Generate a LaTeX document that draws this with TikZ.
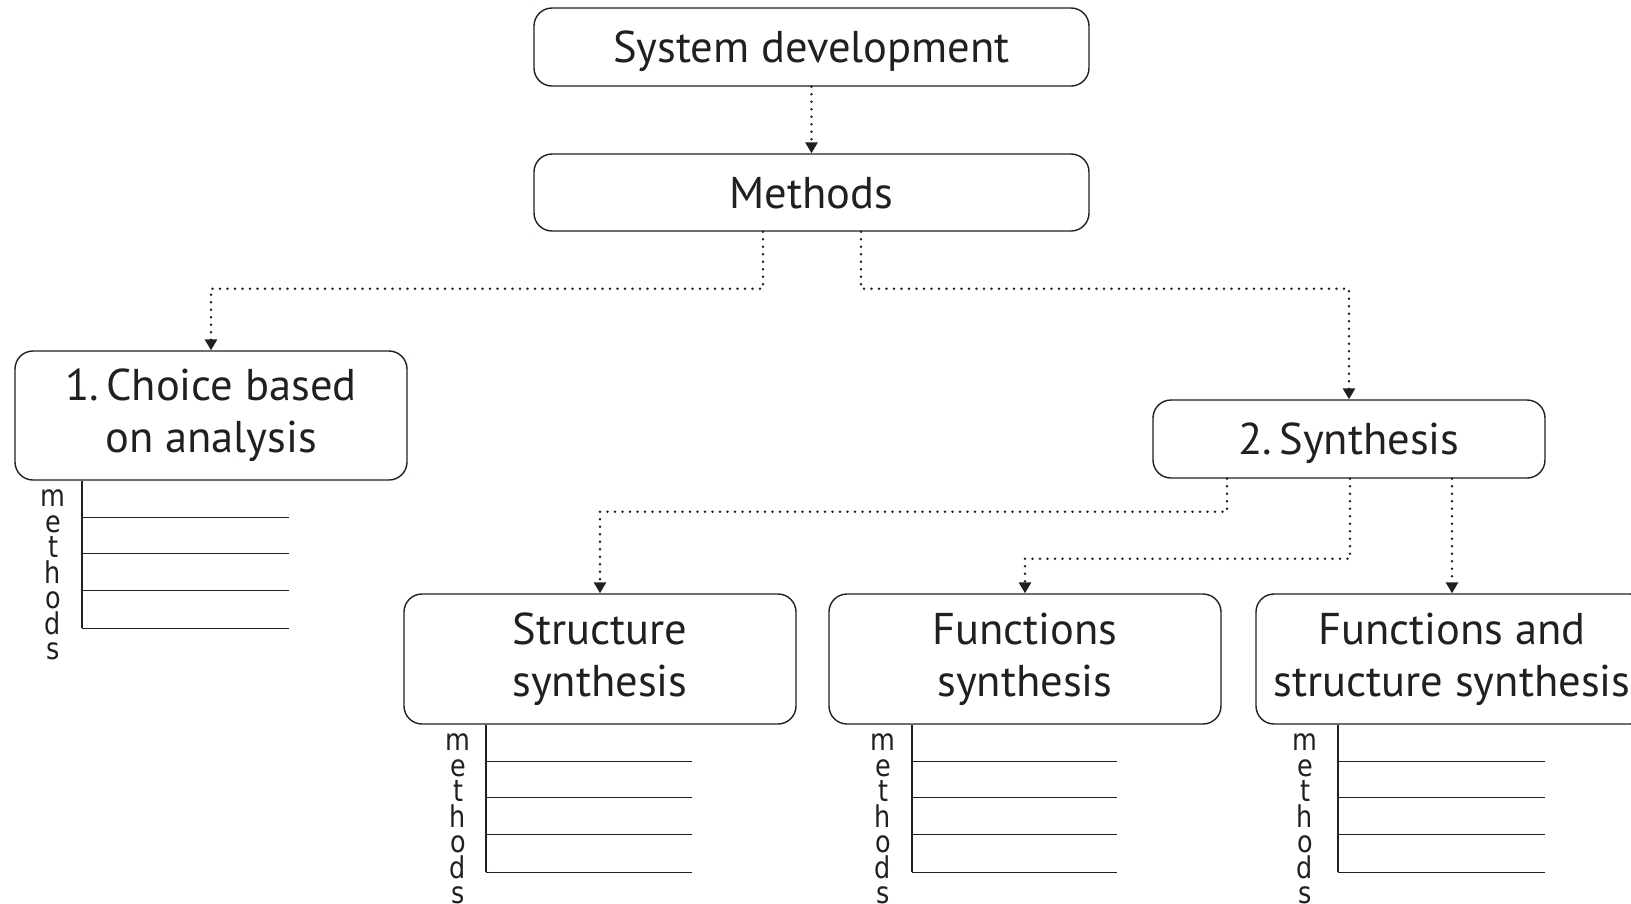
\documentclass[tikz,border=0pt]{standalone}
\usepackage{fontspec}
\setmainfont{PT Sans}
\newfontfamily\letterfont{DejaVu Sans}
\usetikzlibrary{arrows.meta}
\definecolor{ink}{HTML}{231F20}

% vertical "methods" label with an empty list of method slots under a box
% #1 box name, #2 x of the spine, #3 x where the slots end, #4 x of the letters
\newcommand\methlist[4]{%
  \begin{scope}[shift={(#1.south)}]
    \draw[listline] (#2,0) -- (#2,147.5);
    \foreach \yy in {36.5,72.5,109.5,147.5}
      \draw[listline] (#2,\yy) -- (#3,\yy);
    \foreach \ch [count=\i from 0] in {m,e,t,h,o,d,s}
      \node[letter] (#1-l\i) at (#4,26+\i*25.5) {\scalebox{0.85}[1]{\ch}};
  \end{scope}}

\begin{document}
\begin{tikzpicture}[x=1pt,y=-1pt,
  box/.style={draw=ink, line width=1.4pt, rounded corners=18pt,
    minimum width=392pt, inner sep=0pt, align=center, text=ink,
    font=\fontsize{44.5}{52}\selectfont},
  oneline/.style={text depth=0pt, text height=31pt},
  conn/.style={draw=ink, line width=2.8pt, dash pattern=on 0pt off 7.5pt,
    line cap=round, -{Triangle[width=12pt,length=11pt]}},
  listline/.style={draw=ink, line width=1.4pt},
  letter/.style={anchor=base, inner sep=0pt, text=ink,
    font=\letterfont\fontsize{30}{30}\selectfont}]
\clip (0,0) rectangle (1631,903);

\node[box, oneline, minimum width=555pt, minimum height=78pt] (sysdev) at (811.5,47) {System development};
\node[box, oneline, minimum width=555pt, minimum height=77pt] (methods) at (811.5,192.5) {Methods};
\node[box, minimum height=129pt] (choice) at (211,415.5) {1.\,Choice based\\on analysis};
\node[box, oneline, minimum height=78pt] (synth) at (1349,439) {2.\,Synthesis};
\node[box, minimum height=130pt] (ssyn) at (600,659) {Structure\\synthesis};
\node[box, minimum height=130pt] (fsyn) at (1025,659) {Functions\\synthesis};
\node[box, minimum height=130pt] (fss) at (1452,659) {Functions and\\structure synthesis};

\draw[conn] (sysdev.south) -- (methods.north);
\draw[conn] ([xshift=-48.5pt]methods.south) -- ++(0,57) -| (choice.north);
\draw[conn] ([xshift=49.5pt]methods.south) -- ++(0,57) -| (synth.north);
\draw[conn] ([xshift=-122pt]synth.south) -- ++(0,33) -| (ssyn.north);
\draw[conn] ([xshift=1pt]synth.south) -- ++(0,80) -| (fsyn.north);
\draw[conn] ([xshift=103pt]synth.south) -- ([xshift=103pt]synth.south |- fss.north);

\methlist{choice}{-129}{78}{-158}
\methlist{ssyn}{-114}{92}{-142}
\methlist{fsyn}{-113}{92}{-142}
\methlist{fss}{-114}{93}{-147}
\end{tikzpicture}
\end{document}
